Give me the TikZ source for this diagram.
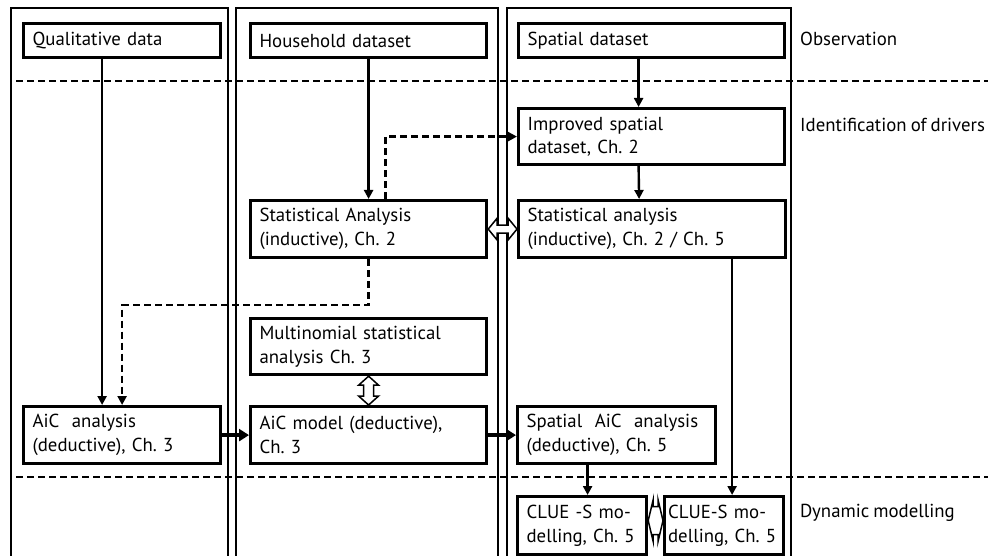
\documentclass[tikz,border=0pt]{standalone}
\usepackage{fontspec}
\setmainfont{PT Sans}[WordSpace=0.8]
\usetikzlibrary{arrows.meta}
\frenchspacing

\begin{document}
\begin{tikzpicture}[x=1pt,y=-1pt,inner sep=0pt,
  box/.style={draw,line width=3.2pt,anchor=north west,align=left,inner xsep=9pt,
    font=\fontsize{18.8pt}{23.5pt}\selectfont},
  lbl/.style={anchor=west,font=\fontsize{18.8pt}{23.5pt}\selectfont},
  conn/.style={line width=2.4pt,-{Triangle[length=9pt,width=9pt]}},
  dconn/.style={conn,dash pattern=on 7pt off 4pt},
  fat/.style={line width=4pt,-{Triangle[length=10pt,width=12pt]}},
  hollow/.style={draw,line width=1.5pt,fill=white,line join=miter}]
\useasboundingbox (0,0) rectangle (998,556);
% columns
\draw [line width=2.4pt] (11,556) -- (11,8) -- (228,8) -- (228,556);
\draw [line width=2.4pt] (236,556) -- (236,8) -- (498,8) -- (498,556);
\draw [line width=2.4pt] (507,556) -- (507,8) -- (791,8) -- (791,556);
% phases
\draw [line width=1.6pt,dash pattern=on 7pt off 4pt] (16,81) -- (988,81);
\draw [line width=1.6pt,dash pattern=on 7pt off 4pt] (16,477) -- (988,477);
\node[lbl] (obs) at (800,39) {Observation};
\node[lbl] (idf) at (800,125) {Identification of drivers};
\node[lbl] (dyn) at (800,513) {Dynamic modelling};
% boxes
\node[box,text width=179pt,minimum height=34pt] (qual) at (22,22) {Qualitative data};
\node[box,text width=218pt,minimum height=34pt] (house) at (249,22) {Household dataset};
\node[box,text width=248pt,minimum height=34pt] (spat) at (517,22) {Spatial dataset};
\node[box,text width=248pt,minimum height=56pt] (impr) at (517,107) {Improved spatial\\dataset, Ch. 2};
\node[box,text width=218pt,minimum height=57pt] (statH) at (249,199) {Statistical Analysis\\(inductive), Ch. 2};
\node[box,text width=249pt,minimum height=57pt] (statS) at (517,199) {Statistical analysis\\(inductive), Ch. 2 / Ch. 5};
\node[box,text width=218pt,minimum height=56pt] (multi) at (249,317) {Multinomial statistical\\analysis Ch. 3};
\node[box,text width=179pt,minimum height=57pt] (aicA) at (22,405) {AiC\ \ analysis\\(deductive), Ch. 3};
\node[box,text width=218pt,minimum height=57pt] (aicM) at (249,405) {AiC model (deductive),\\Ch. 3};
\node[box,text width=180pt,minimum height=57pt] (aicS) at (516,405) {Spatial\ \ AiC\ \ analysis\\(deductive), Ch. 5};
\node[box,text width=111pt,minimum height=58pt] (clueL) at (516,495) {CLUE -S mo-\\delling, Ch. 5};
\node[box,text width=112pt,minimum height=58pt,inner xsep=3.5pt] (clueR) at (663,495) {CLUE-S mo-\\delling, Ch. 5};
% connectors
\draw [conn] ([xshift=-20pt]qual.south) -- ([xshift=-20pt]aicA.north);
\draw [conn] (house) -- (statH);
\draw [conn] ([xshift=-13pt]spat.south) -- ([xshift=-13pt]impr.north);
\draw [conn] ([xshift=-13pt]impr.south) -- ([xshift=-13pt]statS.north);
\draw [dconn] ([xshift=17pt]statH.north) |- (impr.west);
\draw [dconn] (statH.south) -- ++(0,46) -| (aicA.north);
\draw [conn] ([xshift=80pt]statS.south) -- ([xshift=80pt]statS.south |- clueR.north);
\draw [conn] ([xshift=-29pt]aicS.south) -- ([xshift=-29pt]aicS.south |- clueL.north);
\draw [fat] (aicA) -- (aicM);
\draw [fat] (aicM) -- (aicS);
% hollow double arrows
\draw [hollow] (statH.east) -- ++(9,-11) |- ([xshift=-9pt,yshift=4pt]statS.west) -- ++(0,-7)
  -- (statS.west) -- ++(-9,11) |- ([xshift=9pt,yshift=-4pt]statH.east) -- ++(0,7) -- cycle;
\draw [hollow] (multi.south) -- ++(10,9) -| ([xshift=5pt,yshift=9pt]aicM.north) -- ++(5,0)
  -- (aicM.north) -- ++(-10,-9) -| ([xshift=-5pt,yshift=-9pt]multi.south) -- ++(-5,0) -- cycle;
\draw [hollow] ([yshift=5pt]clueL.east) -- ++(5,-21) |- ([xshift=-5pt,yshift=19pt]clueR.west) -- ++(0,-7)
  -- ([yshift=5pt]clueR.west) -- ++(-5,21) |- ([xshift=5pt,yshift=-9pt]clueL.east) -- ++(0,7) -- cycle;
\end{tikzpicture}
\end{document}
